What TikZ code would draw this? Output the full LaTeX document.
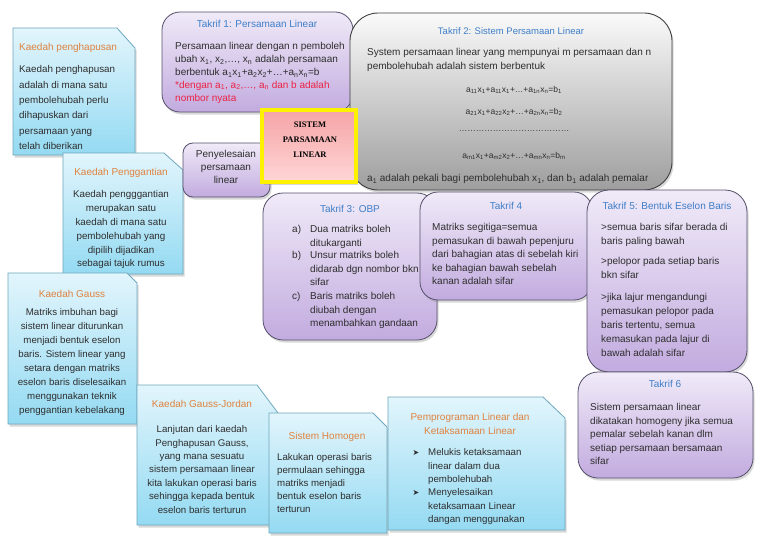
\documentclass[tikz,border=0pt]{standalone}
\usepackage{fontspec}
\setmainfont{Liberation Sans}
\newfontfamily\dejavu{DejaVu Sans}
\newfontfamily\titlefont{Liberation Serif}
\usetikzlibrary{shadows}
\definecolor{ptop}{HTML}{F0EAF8}
\definecolor{pbot}{HTML}{C2ABDF}
\definecolor{pborder}{HTML}{55506A}
\definecolor{gtop}{HTML}{FAFAFA}
\definecolor{gbot}{HTML}{9E9E9E}
\definecolor{gborder}{HTML}{3F3F3F}
\definecolor{btop}{HTML}{E2F5FC}
\definecolor{bbot}{HTML}{94DAF2}
\definecolor{bborder}{HTML}{6EA7BD}
\definecolor{tblue}{HTML}{3E7EC8}
\definecolor{torange}{HTML}{E0823E}
\definecolor{tred}{HTML}{EC2244}
\definecolor{txt}{HTML}{2E2E2E}
\definecolor{ctop}{HTML}{F5A4A6}
\definecolor{cbot}{HTML}{FFD6D6}
\definecolor{cborder}{HTML}{FFF200}
\newcommand\sbs[1]{\textsubscript{#1}}
\newcommand\rbox[6]{\node[#6, minimum width={(#4-#2)*1pt}, minimum height={(#5-#3)*1pt}] (#1) at ({(#2+#4)/2},{(#3+#5)/2}) {};}
\newcommand\bluebox[6]{\shadedraw[bbox] (#1,#2) -- ({#3-#5},#2) -- (#3,{#2+#6}) -- (#3,#4) -- (#1,#4) -- cycle;}
\tikzset{
  shad/.style={drop shadow={opacity=0.3,shadow xshift=1.5pt,shadow yshift=-2.5pt}},
  pbox/.style={draw=pborder, line width=0.8pt, top color=ptop, bottom color=pbot, inner sep=0pt, shad},
  gbox/.style={draw=gborder, line width=0.9pt, top color=gtop, bottom color=gbot, inner sep=0pt, shad},
  bbox/.style={draw=bborder, line width=0.8pt, top color=btop, bottom color=bbot, shad},
  cbox/.style={draw=cborder, line width=4pt, top color=ctop, bottom color=cbot, inner sep=0pt, shad},
  body/.style={font=\fontsize{10}{13.5}\selectfont, text=txt, inner sep=0pt, align=left, anchor=north west},
  bodyc/.style={font=\fontsize{10}{13.5}\selectfont, text=txt, inner sep=0pt, align=center, anchor=north},
  btitle/.style={font=\fontsize{10}{12}\selectfont, text=tblue, inner sep=0pt, anchor=north},
  otitle/.style={font=\fontsize{10}{14}\selectfont, text=torange, inner sep=0pt, anchor=north, align=center},
  eqn/.style={font=\fontsize{8.5}{10}\selectfont, text=txt, inner sep=0pt, anchor=north},
}
\begin{document}
\begin{tikzpicture}[x=1pt,y=-1pt]
\useasboundingbox (0,0) rectangle (768,543);
\fill[white] (0,0) rectangle (768,543);

% ---------- blue boxes ----------
\bluebox{13}{28}{135}{155}{18}{20}
\node[otitle, anchor=north west] (hapusT) at (19,43.5) {Kaedah penghapusan};
\node[body, font=\fontsize{9.8}{15.3}\selectfont] (hapusB) at (19,65.5) {Kaedah penghapusan\\adalah di mana satu\\pembolehubah perlu\\dihapuskan dari\\persamaan yang\\telah diberikan};

\bluebox{63}{153}{183}{274}{19}{17}
\node[otitle] (gantiT) at (121,168.5) {Kaedah Penggantian};
\node[bodyc, font=\fontsize{9.8}{13.8}\selectfont] (gantiB) at (121,190.5) {Kaedah pengggantian\\merupakan satu\\kaedah di mana satu\\pembolehubah yang\\dipilih dijadikan\\sebagai tajuk rumus};

\bluebox{8}{273}{137}{424}{10}{10}
\node[otitle] (gaussT) at (72,290.5) {Kaedah Gauss};
\node[bodyc, font=\fontsize{9.7}{14}\selectfont] (gaussB) at (72,308.5) {Matriks imbuhan bagi\\sistem linear diturunkan\\menjadi bentuk eselon\\baris. Sistem linear yang\\setara dengan matriks\\eselon baris diselesaikan\\menggunakan teknik\\penggantian kebelakang};

\bluebox{137}{385}{278}{525}{21}{28}
\node[otitle] (gjT) at (202,400.5) {Kaedah Gauss-Jordan};
\node[bodyc, font=\fontsize{9.7}{13.4}\selectfont] (gjB) at (202,425.5) {Lanjutan dari kaedah\\Penghapusan Gauss,\\yang mana sesuatu\\sistem persamaan linear\\kita lakukan operasi baris\\sehingga kepada bentuk\\eselon baris terturun};

\bluebox{269}{413}{387}{533}{14}{14}
\node[otitle] (homT) at (327,432.5) {Sistem Homogen};
\node[body, font=\fontsize{9.7}{13}\selectfont] (homB) at (277,453.5) {Lakukan operasi baris\\permulaan sehingga\\matriks menjadi\\bentuk eselon baris\\terturun};

\bluebox{388}{397}{565}{530}{22}{21}
\node[otitle] (progT) at (470,413.5) {Pemprograman Linear dan\\Ketaksamaan Linear};
\node[body, font=\fontsize{9.7}{13.4}\selectfont] (progB) at (428,448.5) {Melukis ketaksamaan\\linear dalam dua\\pembolehubah\\Menyelesaikan\\ketaksamaan Linear\\dangan menggunakan};
\node[inner sep=0pt, font=\dejavu\fontsize{8}{9}\selectfont, text=txt] (bul1) at (416,453) {➤};
\node[inner sep=0pt, font=\dejavu\fontsize{8}{9}\selectfont, text=txt] (bul2) at (416,493.2) {➤};

% ---------- Takrif 1 ----------
\rbox{t1}{162}{12}{353}{112}{pbox, rounded corners=18pt}
\node[btitle] (t1T) at (257,20.5) {Takrif 1: Persamaan Linear};
\node[body, font=\fontsize{10}{12.8}\selectfont] (t1B) at (175,42.5) {Persamaan linear dengan n pemboleh\\ubah x\sbs{1}, x\sbs{2},…, x\sbs{n} adalah persamaan\\berbentuk a\sbs{1}x\sbs{1}+a\sbs{2}x\sbs{2}+…+a\sbs{n}x\sbs{n}=b\\\textcolor{tred}{*dengan a\sbs{1}, a\sbs{2},…, a\sbs{n} dan b adalah}\\\textcolor{tred}{nombor nyata}};

% ---------- Takrif 2 ----------
\rbox{t2}{350}{13}{672}{190}{gbox, rounded corners=28pt}
\node[btitle, font=\fontsize{9.5}{12}\selectfont] (t2T) at (511,27.5) {Takrif 2: Sistem Persamaan Linear};
\node[body, font=\fontsize{10}{14}\selectfont] (t2B) at (367,48.5) {System persamaan linear yang mempunyai m persamaan dan n\\pembolehubah adalah sistem berbentuk};
\node[eqn] (eq1) at (514,86) {a\sbs{11}x\sbs{1}+a\sbs{11}x\sbs{1}+…+a\sbs{1n}x\sbs{n}=b\sbs{1}};
\node[eqn] (eq2) at (514,108) {a\sbs{21}x\sbs{1}+a\sbs{22}x\sbs{2}+…+a\sbs{2n}x\sbs{n}=b\sbs{2}};
\node[eqn] (eq3) at (514,130) {…………………………………};
\node[eqn] (eq4) at (514,152) {a\sbs{m1}x\sbs{1}+a\sbs{m2}x\sbs{2}+…+a\sbs{mn}x\sbs{n}=b\sbs{m}};
\node[body] (t2C) at (367,174.5) {a\sbs{1} adalah pekali bagi pembolehubah x\sbs{1}, dan b\sbs{1} adalah pemalar};

% ---------- Penyelesaian ----------
\rbox{peny}{183}{143}{270}{197}{pbox, rounded corners=10pt}
\node[bodyc, font=\fontsize{10}{12.8}\selectfont] (penyB) at (226,150.5) {Penyelesaian\\persamaan\\linear};

% ---------- centre ----------
\rbox{centre}{262}{110}{356}{182}{cbox}
\node[inner sep=0pt, align=center, font=\titlefont\bfseries\fontsize{8.5}{15}\selectfont, anchor=north] (centreT) at (310,122) {SISTEM\\PARSAMAAN\\LINEAR};

% ---------- Takrif 3 & 4 boxes ----------
\rbox{t3}{263}{193}{437}{340}{pbox, rounded corners=20pt}
\rbox{t4}{420}{192}{592}{300}{pbox, rounded corners=18pt}

% Takrif 4 text
\node[btitle] (t4T) at (506,202.5) {Takrif 4};
\node[body] (t4B) at (432,223.5) {Matriks segitiga=semua\\pemasukan di bawah pepenjuru\\dari bahagian atas di sebelah kiri\\ke bahagian bawah sebelah\\kanan adalah sifar};

% Takrif 3 text
\node[btitle] (t3T) at (350,205.5) {Takrif 3: OBP};
\node[body, font=\fontsize{10}{13.3}\selectfont] (t3a) at (292,225.5) {a)};
\node[body, font=\fontsize{10}{13.3}\selectfont] (t3aB) at (310,225.5) {Dua matriks boleh\\ditukarganti};
\node[body, font=\fontsize{10}{13.3}\selectfont] (t3b) at (292,251.5) {b)};
\node[body, font=\fontsize{10}{13.3}\selectfont] (t3bB) at (310,251.5) {Unsur matriks boleh\\didarab dgn nombor bkn\\sifar};
\node[body, font=\fontsize{10}{13.3}\selectfont] (t3c) at (292,292.5) {c)};
\node[body, font=\fontsize{10}{13.3}\selectfont] (t3cB) at (310,292.5) {Baris matriks boleh\\diubah dengan\\menambahkan gandaan};

% ---------- Takrif 5 ----------
\rbox{t5}{587}{190}{747}{372}{pbox, rounded corners=22pt}
\node[btitle] (t5T) at (667,202.5) {Takrif 5: Bentuk Eselon Baris};
\node[body, font=\fontsize{10}{14}\selectfont] (t5a) at (601,223.5) {>semua baris sifar berada di\\baris paling bawah};
\node[body, font=\fontsize{10}{14}\selectfont] (t5b) at (601,257.5) {>pelopor pada setiap baris\\bkn sifar};
\node[body, font=\fontsize{10}{13.8}\selectfont] (t5c) at (601,293.5) {>jika lajur mengandungi\\pemasukan pelopor pada\\baris tertentu, semua\\kemasukan pada lajur di\\bawah adalah sifar};

% ---------- Takrif 6 ----------
\rbox{t6}{578}{372}{753}{478}{pbox, rounded corners=20pt}
\node[btitle] (t6T) at (665,380.5) {Takrif 6};
\node[body] (t6B) at (590,403.5) {Sistem persamaan linear\\dikatakan homogeny jika semua\\pemalar sebelah kanan dlm\\setiap persamaan bersamaan\\sifar};
\end{tikzpicture}
\end{document}
